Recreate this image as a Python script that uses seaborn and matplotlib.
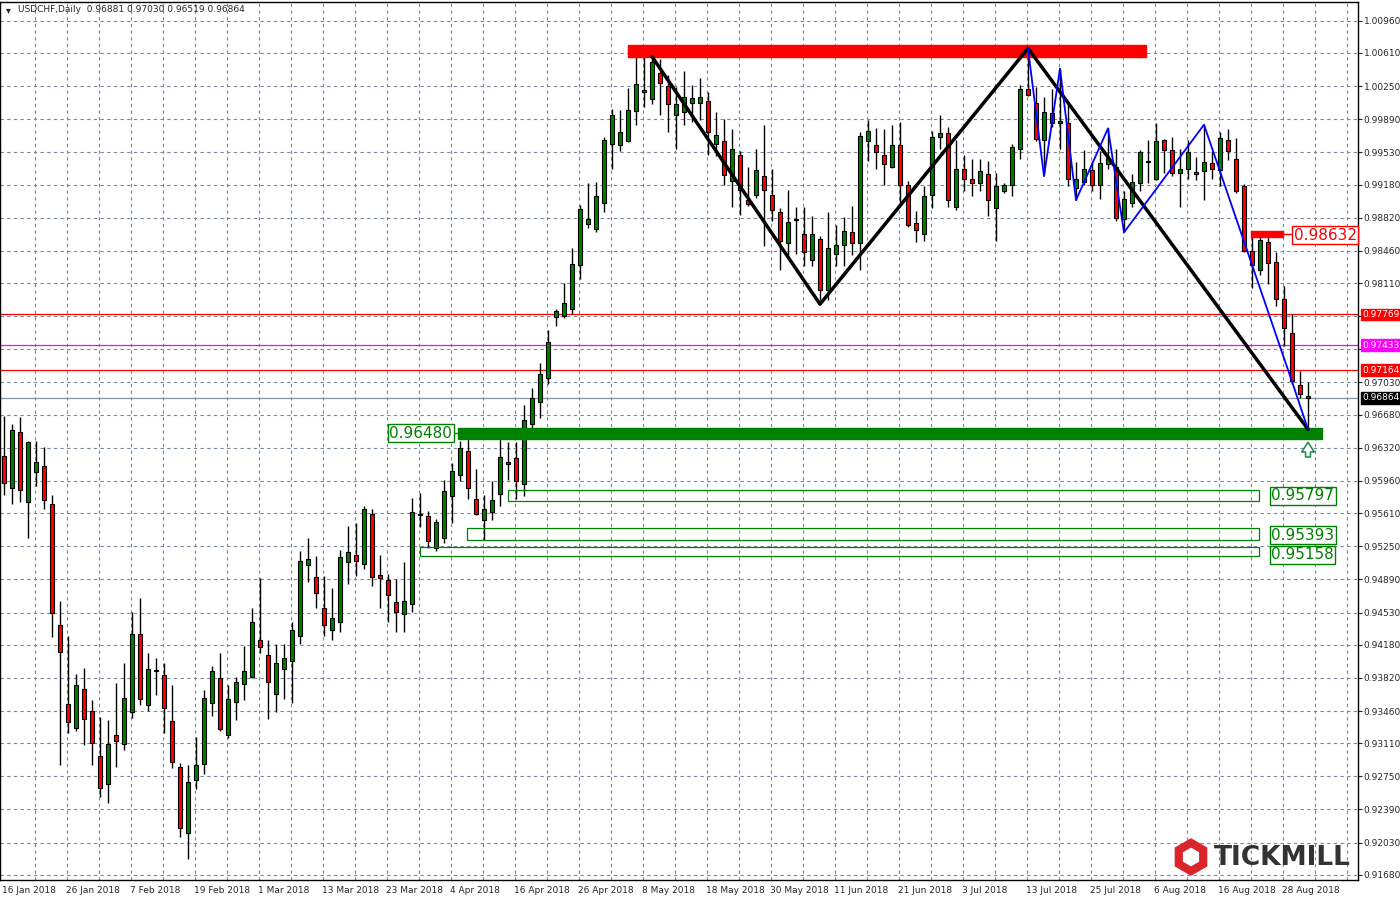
import numpy as np
import pandas as pd
import seaborn as sns
import matplotlib.pyplot as plt
from matplotlib.patches import Rectangle, RegularPolygon

sns.set_style('white')
plt.rcParams['font.family'] = ['DejaVu Sans']

# daily candles, 16 Jan 2018 - 31 Aug 2018
dates = pd.bdate_range('2018-01-16', '2018-08-31')

opens = [0.9623, 0.9588, 0.9649, 0.9573, 0.9606, 0.9612, 0.9571, 0.9439, 0.9354, 0.9327,
         0.9370, 0.9346, 0.9297, 0.9267, 0.9320, 0.9310, 0.9345, 0.9430, 0.9353, 0.9391,
         0.9385, 0.9335, 0.9285, 0.9213, 0.9271, 0.9288, 0.9355, 0.9382, 0.9320, 0.9356,
         0.9375, 0.9383, 0.9423, 0.9407, 0.9364, 0.9392, 0.9400, 0.9428, 0.9505, 0.9492,
         0.9458, 0.9434, 0.9443, 0.9508, 0.9515, 0.9506, 0.9560, 0.9494, 0.9488, 0.9464,
         0.9451, 0.9462, 0.9560, 0.9558, 0.9523, 0.9534, 0.9580, 0.9602, 0.9629, 0.9576,
         0.9553, 0.9562, 0.9582, 0.9614, 0.9621, 0.9593, 0.9658, 0.9682, 0.9708, 0.9774,
         0.9775, 0.9783, 0.9831, 0.9875, 0.9870, 0.9898, 0.9962, 0.9961, 0.9965, 0.9998,
         1.0021, 1.0011, 1.0039, 1.0025, 0.9994, 0.9997, 1.0007, 1.0007, 1.0009, 0.9962,
         0.9965, 0.9922, 0.9950, 0.9901, 0.9907, 0.9927, 0.9907, 0.9888, 0.9854, 0.9881,
         0.9864, 0.9836, 0.9859, 0.9803, 0.9842, 0.9852, 0.9866, 0.9854, 0.9965, 0.9961,
         0.9950, 0.9937, 0.9961, 0.9917, 0.9876, 0.9864, 0.9907, 0.9970, 0.9974, 0.9894,
         0.9935, 0.9924, 0.9920, 0.9929, 0.9892, 0.9911, 0.9918, 0.9957, 1.0022, 1.0007,
         0.9966, 0.9996, 0.9985, 0.9985, 0.9914, 0.9921, 0.9934, 0.9917, 0.9940, 0.9937,
         0.9881, 0.9898, 0.9920, 0.9942, 0.9924, 0.9966, 0.9956, 0.9931, 0.9935, 0.9932,
         0.9933, 0.9941, 0.9934, 0.9966, 0.9946, 0.9916, 0.9846, 0.9825, 0.9856, 0.9834,
         0.9794, 0.9757, 0.9700, 0.96881]
highs = [0.9666, 0.9658, 0.9665, 0.9639, 0.9639, 0.9633, 0.9581, 0.9466, 0.9427, 0.9386,
         0.9393, 0.9358, 0.9340, 0.9336, 0.9376, 0.9398, 0.9454, 0.9469, 0.9409, 0.9404,
         0.9398, 0.9374, 0.9290, 0.9287, 0.9318, 0.9369, 0.9395, 0.9409, 0.9374, 0.9383,
         0.9417, 0.9458, 0.9490, 0.9423, 0.9419, 0.9419, 0.9443, 0.9520, 0.9534, 0.9514,
         0.9493, 0.9480, 0.9521, 0.9547, 0.9550, 0.9569, 0.9565, 0.9515, 0.9495, 0.9489,
         0.9508, 0.9577, 0.9583, 0.9563, 0.9555, 0.9597, 0.9615, 0.9639, 0.9649, 0.9609,
         0.9581, 0.9596, 0.9646, 0.9638, 0.9638, 0.9679, 0.9697, 0.9724, 0.9760, 0.9783,
         0.9811, 0.9849, 0.9896, 0.9920, 0.9921, 0.9970, 1.0000, 0.9999, 1.0023, 1.0057,
         1.0059, 1.0057, 1.0054, 1.0037, 1.0024, 1.0041, 1.0026, 1.0034, 1.0019, 0.9997,
         0.9989, 0.9978, 0.9954, 0.9937, 0.9957, 0.9983, 0.9935, 0.9892, 0.9912, 0.9894,
         0.9894, 0.9884, 0.9862, 0.9888, 0.9874, 0.9883, 0.9895, 0.9975, 0.9988, 0.9979,
         0.9978, 0.9983, 0.9986, 0.9922, 0.9889, 0.9916, 0.9976, 0.9993, 0.9981, 0.9966,
         0.9950, 0.9946, 0.9946, 0.9944, 0.9930, 0.9920, 0.9962, 1.0026, 1.0066, 1.0024,
         1.0013, 1.0022, 1.0044, 1.0008, 0.9942, 0.9955, 0.9944, 0.9954, 0.9979, 0.9957,
         0.9911, 0.9929, 0.9956, 0.9966, 0.9985, 0.9968, 0.9970, 0.9957, 0.9966, 0.9948,
         0.9983, 0.9954, 0.9975, 0.9978, 0.9969, 0.9919, 0.9864, 0.9865, 0.9865, 0.9845,
         0.9808, 0.9777, 0.9715, 0.97030]
lows = [0.9581, 0.9571, 0.9573, 0.9534, 0.9591, 0.9565, 0.9426, 0.9287, 0.9322, 0.9324,
        0.9309, 0.9287, 0.9253, 0.9246, 0.9285, 0.9304, 0.9338, 0.9352, 0.9346, 0.9363,
        0.9322, 0.9284, 0.9209, 0.9185, 0.9261, 0.9278, 0.9341, 0.9324, 0.9317, 0.9336,
        0.9358, 0.9382, 0.9409, 0.9337, 0.9345, 0.9359, 0.9355, 0.9419, 0.9486, 0.9458,
        0.9428, 0.9423, 0.9432, 0.9484, 0.9493, 0.9500, 0.9482, 0.9458, 0.9443, 0.9432,
        0.9432, 0.9454, 0.9546, 0.9523, 0.9520, 0.9529, 0.9550, 0.9596, 0.9576, 0.9559,
        0.9532, 0.9553, 0.9569, 0.9597, 0.9576, 0.9580, 0.9649, 0.9664, 0.9701, 0.9764,
        0.9773, 0.9777, 0.9815, 0.9871, 0.9866, 0.9888, 0.9935, 0.9954, 0.9964, 0.9983,
        1.0002, 1.0005, 0.9994, 0.9975, 0.9957, 0.9983, 0.9986, 0.9988, 0.9950, 0.9949,
        0.9918, 0.9894, 0.9885, 0.9895, 0.9903, 0.9851, 0.9878, 0.9825, 0.9838, 0.9842,
        0.9830, 0.9829, 0.9792, 0.9792, 0.9829, 0.9829, 0.9841, 0.9825, 0.9944, 0.9935,
        0.9918, 0.9936, 0.9896, 0.9872, 0.9856, 0.9857, 0.9892, 0.9957, 0.9894, 0.9890,
        0.9911, 0.9905, 0.9911, 0.9884, 0.9857, 0.9909, 0.9905, 0.9946, 1.0014, 0.9965,
        0.9930, 0.9981, 0.9957, 0.9916, 0.9901, 0.9917, 0.9911, 0.9902, 0.9935, 0.9878,
        0.9867, 0.9894, 0.9911, 0.9920, 0.9923, 0.9930, 0.9927, 0.9894, 0.9924, 0.9923,
        0.9901, 0.9924, 0.9916, 0.9945, 0.9909, 0.9845, 0.9806, 0.9820, 0.9810, 0.9786,
        0.9743, 0.9701, 0.9686, 0.96519]
closes = [0.9594, 0.9651, 0.9586, 0.9638, 0.9617, 0.9575, 0.9453, 0.9410, 0.9334, 0.9374,
          0.9337, 0.9311, 0.9262, 0.9310, 0.9313, 0.9360, 0.9430, 0.9359, 0.9392, 0.9390,
          0.9349, 0.9291, 0.9219, 0.9269, 0.9287, 0.9360, 0.9389, 0.9326, 0.9359, 0.9378,
          0.9389, 0.9443, 0.9416, 0.9377, 0.9398, 0.9404, 0.9434, 0.9509, 0.9511, 0.9474,
          0.9439, 0.9447, 0.9513, 0.9519, 0.9509, 0.9565, 0.9492, 0.9491, 0.9472, 0.9454,
          0.9466, 0.9562, 0.9559, 0.9531, 0.9551, 0.9585, 0.9607, 0.9632, 0.9588, 0.9560,
          0.9566, 0.9575, 0.9622, 0.9617, 0.9596, 0.9662, 0.9686, 0.9712, 0.9747, 0.9781,
          0.9789, 0.9832, 0.9891, 0.9880, 0.9906, 0.9966, 0.9993, 0.9975, 0.9999, 1.0027,
          1.0018, 1.0051, 1.0028, 1.0005, 1.0005, 1.0013, 1.0012, 1.0013, 0.9975, 0.9972,
          0.9928, 0.9957, 0.9912, 0.9897, 0.9934, 0.9912, 0.9890, 0.9857, 0.9877, 0.9879,
          0.9845, 0.9864, 0.9803, 0.9849, 0.9852, 0.9868, 0.9854, 0.9971, 0.9976, 0.9953,
          0.9940, 0.9961, 0.9918, 0.9874, 0.9869, 0.9905, 0.9970, 0.9974, 0.9901, 0.9935,
          0.9924, 0.9920, 0.9933, 0.9901, 0.9916, 0.9918, 0.9959, 1.0022, 1.0015, 0.9968,
          0.9997, 0.9985, 0.9987, 0.9924, 0.9924, 0.9935, 0.9917, 0.9941, 0.9947, 0.9882,
          0.9902, 0.9921, 0.9953, 0.9944, 0.9965, 0.9956, 0.9931, 0.9935, 0.9953, 0.9929,
          0.9942, 0.9935, 0.9969, 0.9954, 0.9911, 0.9846, 0.9831, 0.9858, 0.9833, 0.9794,
          0.9762, 0.9704, 0.9690, 0.96864]

# zigzag swing points (bar index, price)
black_idx = [81, 102, 128, 163]
black_px = [1.0057, 0.9788, 1.0066, 0.9652]
blue_idx = [128, 130, 132, 134, 138, 140, 150, 161, 163]
blue_px = [1.0066, 0.9927, 1.0044, 0.9901, 0.9979, 0.9866, 0.9983, 0.9704, 0.9652]

hlines = [0.97769, 0.97433, 0.97164, 0.96864]
hline_colors = ['#ff0000', '#ff00ff', '#ff0000', '#8090a0']
price_ticks = [1.00960, 1.00610, 1.00250, 0.99890, 0.99530, 0.99180, 0.98820, 0.98460,
               0.98110, 0.97750, 0.97390, 0.97030, 0.96680, 0.96320, 0.95960, 0.95610,
               0.95250, 0.94890, 0.94530, 0.94180, 0.93820, 0.93460, 0.93110, 0.92750,
               0.92390, 0.92030, 0.91680]
hidden_ticks = [0.97750, 0.97390]  # covered by the level tags

df = pd.DataFrame({'date': dates, 'open': opens, 'high': highs,
                   'low': lows, 'close': closes})
df['k'] = np.arange(len(df))
up = df['close'] >= df['open']

fig = plt.figure(figsize=(14, 9), dpi=100)
ax = fig.add_axes([0.0, 1 - 880 / 900, 1358 / 1400, 878 / 900])
ax.set_xlim(-0.5, 169.25)
ax.set_ylim(0.91624, 1.01163)

# grid
for p in price_ticks:
    ax.axhline(p, color='#778899', lw=0.8, ls=(0, (3, 3)), zorder=0)
for j in range(1, 43):
    ax.axvline(4 * j - 0.1, color='#778899', lw=0.8, ls=(0, (3, 3)), zorder=0)

# candles
ax.vlines(df['k'], df['low'], df['high'], color='black', lw=1, zorder=2)
body_lo = np.minimum(df['open'], df['close'])
body_h = np.maximum(np.abs(df['close'] - df['open']), 0.00006)
ax.bar(df['k'], body_h, bottom=body_lo, width=0.62,
       color=np.where(up, '#008000', '#ff0000'), edgecolor='black', lw=0.8, zorder=3)

# level lines
for v, c in zip(hlines, hline_colors):
    ax.axhline(v, color=c, lw=0.9, zorder=1)

# zones
ax.add_patch(Rectangle((78, 1.00567), 64.75, 0.0013, color='#ff0000', zorder=4))
ax.add_patch(Rectangle((56.75, 0.9642), 108, 0.0012, color='#008000', zorder=4))
ax.add_patch(Rectangle((155.9, 0.9861), 4, 0.0006, color='#ff0000', zorder=4))
for x0, y0, y1 in [(63, 0.9574, 0.9586), (57.9, 0.9532, 0.9545), (52, 0.9514, 0.9524)]:
    ax.add_patch(Rectangle((x0, y0), 156.9 - x0, y1 - y0, fill=False,
                           ec='#008000', lw=0.9, zorder=4))

# zigzags
sns.lineplot(x=black_idx, y=black_px, sort=False, color='black', lw=2.5, ax=ax, zorder=5)
sns.lineplot(x=blue_idx, y=blue_px, sort=False, color='#0000ff', lw=1.3, ax=ax, zorder=6)

# level labels
box_g = dict(boxstyle='square,pad=0.1', fc='white', ec='#008000', lw=1)
ax.text(56, 0.9648, '0.96480', color='#008000', fontsize=11, ha='right', va='center',
        bbox=box_g, zorder=7)
ax.plot([56, 56.75], [0.9648, 0.9648], color='#008000', lw=1)
for y, t in [(0.9580, '0.95797'), (0.9537, '0.95393'), (0.9516, '0.95158')]:
    ax.text(158.4, y, t, color='#008000', fontsize=11, ha='left', va='center',
            bbox=box_g, zorder=7)
ax.text(161.2, 0.9863, '0.98632', color='#ff0000', fontsize=11, ha='left', va='center',
        bbox=dict(boxstyle='square,pad=0.1', fc='white', ec='#ff0000', lw=1), zorder=7)
ax.plot([159.9, 161.2], [0.9864, 0.9864], color='#ff0000', lw=1)

ax.annotate('', xy=(163, 0.9641), xytext=(163, 0.9619),
            arrowprops=dict(arrowstyle='simple,head_width=0.9,head_length=0.7,tail_width=0.35',
                            fc='white', ec='#2e8b57', lw=1.2))

# axes
ax.yaxis.tick_right()
ax.set_yticks(price_ticks)
ax.set_yticklabels(['' if p in hidden_ticks else f'{p:.5f}' for p in price_ticks], fontsize=6.5)
xt = list(range(0, len(df), 8))
ax.set_xticks([k - 0.3 for k in xt])
ax.set_xticklabels([f'{dates[k].day} {dates[k]:%b %Y}' for k in xt], fontsize=6.5, ha='left')
ax.tick_params(length=3, width=0.8, pad=1)
for s in ax.spines.values():
    s.set_color('black')
    s.set_linewidth(1)

for v, c in zip(hlines, ['#ff0000', '#ff00ff', '#ff0000', 'black']):
    ax.text(1.003, v, f'{v:.5f}', transform=ax.get_yaxis_transform(), fontsize=6.5,
            color='white', va='center', ha='left', zorder=8,
            bbox=dict(boxstyle='square,pad=0.15', fc=c, ec=c))

fig.text(18 / 1400, 1 - 10 / 900, 'USDCHF,Daily  0.96881 0.97030 0.96519 0.96864',
         fontsize=6.5, va='center')
fig.text(6 / 1400, 1 - 10 / 900, '▾', fontsize=7, va='center')

# logo
lax = fig.add_axes([1172 / 1400, 1 - 876 / 900, 38 / 1400, 38 / 900])
lax.set_xlim(-1, 1)
lax.set_ylim(-1, 1)
lax.set_aspect('equal')
lax.axis('off')
lax.add_patch(RegularPolygon((0, 0), 6, radius=0.95, color='#d9262c'))
lax.add_patch(RegularPolygon((0, 0), 6, radius=0.45, color='white'))
fig.text(1214 / 1400, 1 - 858 / 900, 'TICKMILL', fontsize=19, fontweight='bold',
         color='#333333', va='center')

fig.savefig('out.png', dpi=100)
